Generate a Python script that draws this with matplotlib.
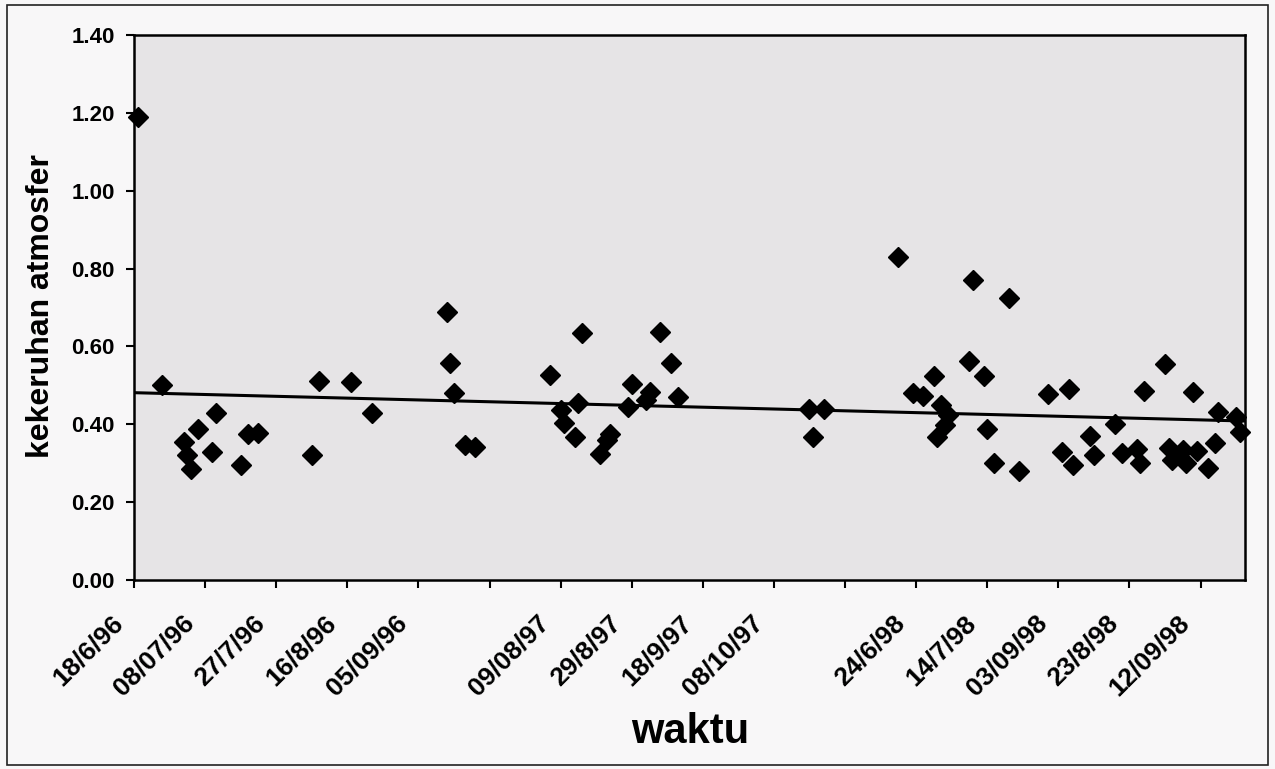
import matplotlib.pyplot as plt
import numpy as np
from matplotlib.patches import Rectangle
from matplotlib.transforms import ScaledTranslation

# category index of each observation (one category per sampling date)
idx = [1, 8, 14, 15, 16, 18, 22, 23, 30, 32, 35, 50, 52, 61, 67,
       88, 89, 90, 93, 96,
       117, 120, 121, 124, 125, 126, 131, 133, 134, 139, 140, 144, 145,
       148, 151, 153,
       190, 191, 194,
       215, 219, 222, 225, 226, 227, 228, 229, 235, 236, 239, 240, 242,
       246, 249, 257, 261, 263, 264, 269, 270, 276, 278, 282, 283, 284,
       290, 291, 292, 295, 296, 298, 299, 302, 304, 305, 310, 311]
kekeruhan = [1.19, 0.50, 0.355, 0.32, 0.285, 0.388, 0.33, 0.43, 0.295,
             0.375, 0.378, 0.32, 0.51, 0.508, 0.43,
             0.688, 0.557, 0.48, 0.347, 0.342,
             0.527, 0.437, 0.404, 0.367, 0.455, 0.635, 0.324, 0.36, 0.375,
             0.444, 0.503, 0.462, 0.484, 0.637, 0.557, 0.47,
             0.438, 0.368, 0.438,
             0.83, 0.48, 0.473, 0.525, 0.368, 0.45, 0.398, 0.424, 0.563,
             0.771, 0.524, 0.388, 0.30, 0.724, 0.281, 0.477, 0.33, 0.49,
             0.295, 0.37, 0.32, 0.40, 0.327, 0.336, 0.30, 0.486,
             0.554, 0.339, 0.309, 0.334, 0.30, 0.484, 0.332, 0.287, 0.351,
             0.432, 0.418, 0.38]

tick_pos = list(range(0, 301, 20))
tick_labels = ["18/6/96", "08/07/96", "27/7/96", "16/8/96", "05/09/96", "",
               "09/08/97", "29/8/97", "18/9/97", "08/10/97", "",
               "24/6/98", "14/7/98", "03/09/98", "23/8/98", "12/09/98"]

plt.rcParams["font.family"] = ["Liberation Sans", "DejaVu Sans"]
plt.rcParams["font.weight"] = "bold"

fig = plt.figure(figsize=(12.75, 7.69), dpi=100, facecolor="#f8f7f8")
ax = fig.add_axes([134 / 1275, 1 - 580 / 769, (1245 - 134) / 1275, (580 - 35) / 769])
ax.set_facecolor("#e6e4e6")

# outer chart border
fig.patches.append(Rectangle((7 / 1275, 4 / 769), 1261 / 1275, 760 / 769,
                             transform=fig.transFigure, fill=False,
                             edgecolor="#222222", linewidth=1.2))

ax.plot(idx, kekeruhan, linestyle="none", marker="D", markersize=10,
        color="black", clip_on=False, zorder=3)

# linear trendline
xlim = (0, 312.5)
coef = np.polyfit(idx, kekeruhan, 1)
xs = np.array(xlim)
ax.plot(xs, np.polyval(coef, xs), color="black", linewidth=2.2, zorder=2)

ax.set_xlim(xlim)
ax.set_ylim(0, 1.4)
yt = np.arange(0, 1.41, 0.2)
ax.set_yticks(yt)
ax.set_yticklabels([f"{v:.2f}" for v in yt], fontsize=16, fontweight="bold")
ax.set_xticks(tick_pos)
ax.set_xticklabels(tick_labels, rotation=45, ha="right", va="baseline",
                   rotation_mode="anchor", fontsize=19, fontweight="bold")
ax.tick_params(axis="both", direction="out", length=6, width=1.5, color="black")
ax.tick_params(axis="x", pad=26)
ax.tick_params(axis="y", pad=8)

# shift rotated date labels so they end just left of their tick
shift = ScaledTranslation(-10 / 100, 0, fig.dpi_scale_trans)
for lbl in ax.get_xticklabels():
    lbl.set_transform(lbl.get_transform() + shift)

for s in ax.spines.values():
    s.set_linewidth(1.8)
    s.set_color("black")

ax.set_ylabel("kekeruhan atmosfer", fontsize=23, fontweight="bold")
ax.yaxis.set_label_coords(-0.084, 0.503)
ax.yaxis.label.set_verticalalignment("center")
ax.set_xlabel("waktu", fontsize=30, fontweight="bold")
ax.xaxis.set_label_coords(0.5005, -0.299)
ax.xaxis.label.set_verticalalignment("baseline")

fig.savefig("out.png", dpi=100, facecolor=fig.get_facecolor())
